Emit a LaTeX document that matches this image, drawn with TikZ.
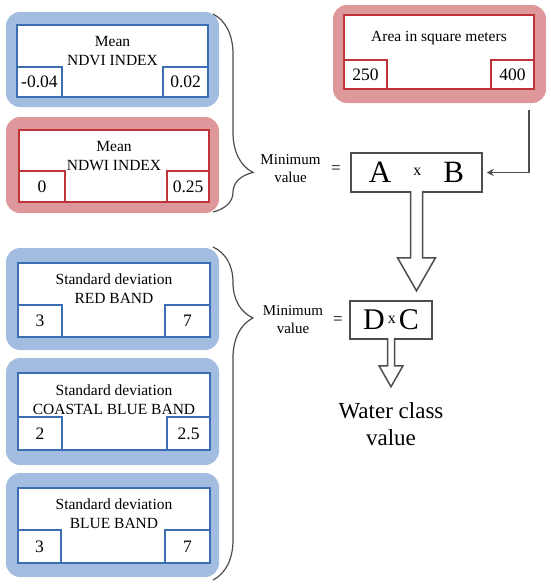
\documentclass[tikz,border=0pt]{standalone}
\usepackage{fontspec}
\setmainfont{Liberation Serif}
\usepackage{tikz}
\usetikzlibrary{positioning, arrows.meta, calc, decorations.pathreplacing}
\definecolor{bandblue}{HTML}{A3BDE0}
\definecolor{edgeblue}{HTML}{3C6EB4}
\definecolor{bandred}{HTML}{DE989C}
\definecolor{edgered}{HTML}{BE3438}
\definecolor{linegray}{HTML}{4D4D4D}

\tikzset{
  panelbg/.style={rounded corners=14pt, inner sep=0pt},
  valbox/.style={draw, fill=white, line width=2.4pt, inner sep=0pt},
  subbox/.style={draw, fill=white, line width=2.2pt, inner sep=0pt, font=\fontsize{17.5}{17.5}\selectfont},
  titletxt/.style={align=center, inner sep=0pt, font=\fontsize{15.5}{18.5}\selectfont},
  minlabel/.style={align=center, inner sep=0pt, font=\fontsize{15}{18}\selectfont},
  prodbox/.style={draw=linegray, fill=white, line width=1.5pt, inner sep=0pt},
  hollow/.style={draw=linegray, fill=white, line width=1.5pt, line join=miter},
  bracket/.style={draw=linegray, line width=1.2pt, decorate}
}

\begin{document}
\begin{tikzpicture}[x=1pt, y=-1pt]
  \useasboundingbox (0,0) rectangle (550,587);
  % mean NDVI
  \node[panelbg, fill=bandblue, minimum width=213pt, minimum height=95pt] (ndvibg) at (112.5,59.5) {};
  \node[valbox, draw=edgeblue, minimum width=191pt, minimum height=72pt] (ndvi) at (112.5,61) {};
  \node[titletxt] (ndvititle) at ($(ndvi.north)+(0,27)$) {Mean\\NDVI INDEX};
  \node[subbox, draw=edgeblue, minimum width=45pt, minimum height=30pt, anchor=south west] (ndvilo) at (ndvi.south west) {-0.04};
  \node[subbox, draw=edgeblue, minimum width=45pt, minimum height=30pt, anchor=south east] (ndvihi) at (ndvi.south east) {0.02};
  % mean NDWI
  \node[panelbg, fill=bandred, minimum width=213pt, minimum height=96pt] (ndwibg) at (112.5,165) {};
  \node[valbox, draw=edgered, minimum width=190pt, minimum height=72pt] (ndwi) at (114,166) {};
  \node[titletxt] (ndwititle) at ($(ndwi.north)+(0,27)$) {Mean\\NDWI INDEX};
  \node[subbox, draw=edgered, minimum width=46pt, minimum height=31pt, anchor=south west] (ndwilo) at (ndwi.south west) {0};
  \node[subbox, draw=edgered, minimum width=42pt, minimum height=31pt, anchor=south east] (ndwihi) at (ndwi.south east) {0.25};
  % area
  \node[panelbg, fill=bandred, minimum width=213pt, minimum height=98pt] (areabg) at (439.5,54) {};
  \node[valbox, draw=edgered, minimum width=190pt, minimum height=74pt] (area) at (439,52) {};
  \node[titletxt] (areatitle) at ($(area.north)+(0,24)$) {Area in square meters};
  \node[subbox, draw=edgered, minimum width=43pt, minimum height=29pt, anchor=south west] (arealo) at (area.south west) {250};
  \node[subbox, draw=edgered, minimum width=43pt, minimum height=29pt, anchor=south east] (areahi) at (area.south east) {400};
  % sd red band
  \node[panelbg, fill=bandblue, minimum width=213pt, minimum height=102pt] (redbg) at (112.5,299) {};
  \node[valbox, draw=edgeblue, minimum width=192pt, minimum height=74pt] (red) at (114,300) {};
  \node[titletxt] (redtitle) at ($(red.north)+(0,27)$) {Standard deviation\\RED BAND};
  \node[subbox, draw=edgeblue, minimum width=44pt, minimum height=32pt, anchor=south west] (redlo) at (red.south west) {3};
  \node[subbox, draw=edgeblue, minimum width=45pt, minimum height=32pt, anchor=south east] (redhi) at (red.south east) {7};
  % sd coastal blue band
  \node[panelbg, fill=bandblue, minimum width=213pt, minimum height=107pt] (coastbg) at (112.5,411.5) {};
  \node[valbox, draw=edgeblue, minimum width=192pt, minimum height=77pt] (coast) at (114,411.5) {};
  \node[titletxt] (coasttitle) at ($(coast.north)+(0,28)$) {Standard deviation\\COASTAL BLUE BAND};
  \node[subbox, draw=edgeblue, minimum width=44pt, minimum height=33pt, anchor=south west] (coastlo) at (coast.south west) {2};
  \node[subbox, draw=edgeblue, minimum width=43pt, minimum height=33pt, anchor=south east] (coasthi) at (coast.south east) {2.5};
  % sd blue band
  \node[panelbg, fill=bandblue, minimum width=213pt, minimum height=104pt] (bluebg) at (112.5,525) {};
  \node[valbox, draw=edgeblue, minimum width=192pt, minimum height=75pt] (blue) at (114,525.5) {};
  \node[titletxt] (bluetitle) at ($(blue.north)+(0,27)$) {Standard deviation\\BLUE BAND};
  \node[subbox, draw=edgeblue, minimum width=43pt, minimum height=33pt, anchor=south west] (bluelo) at (blue.south west) {3};
  \node[subbox, draw=edgeblue, minimum width=45pt, minimum height=33pt, anchor=south east] (bluehi) at (blue.south east) {7};
  % braces
  \coordinate (brace1top) at (213,14);
  \coordinate (brace1bot) at (213,212);
  \coordinate (brace2top) at (213,247);
  \coordinate (brace2bot) at (213,580);
  \draw[bracket, decoration={brace, amplitude=40pt, aspect=0.8}] (brace1top) -- (brace1bot);
  \draw[bracket, decoration={brace, amplitude=40pt, aspect=0.213}] (brace2top) -- (brace2bot);
  % products
  \node[minlabel] (min1) at (290.5,169) {Minimum\\value};
  \node[font=\fontsize{17}{17}\selectfont] (eq1) at (336,170) {=};
  \node[prodbox, minimum width=131pt, minimum height=39pt, font=\fontsize{31}{31}\selectfont] (prodAB) at (416.5,172.5)
    {A\hspace{22pt}\raisebox{7pt}{\fontsize{16}{16}\selectfont x}\hspace{22pt}B};
  \node[minlabel] (min2) at (293,320) {Minimum\\value};
  \node[font=\fontsize{17}{17}\selectfont] (eq2) at (338,321) {=};
  \node[prodbox, minimum width=82pt, minimum height=38pt, font=\fontsize{30}{30}\selectfont] (prodDC) at (391,320)
    {D\hspace{3pt}\raisebox{6pt}{\fontsize{16}{16}\selectfont x}\hspace{3pt}C};
  \node[align=center, inner sep=0pt, font=\fontsize{23}{27}\selectfont] (water) at (391,424) {Water class\\value};
  % connectors
  \coordinate (areaout) at (529,110);
  \draw[linegray, line width=1.5pt, -{Stealth[length=7pt, width=7pt]}, shorten >=4pt] (areaout) |- (prodAB.east);
  \draw[hollow] ($(prodAB.south)+(-6,-2)$) -- ($(prodAB.south)+(-6,65)$) -- ($(prodAB.south)+(-19,65)$)
    -- ($(prodAB.south)+(0,98)$) -- ($(prodAB.south)+(19,65)$) -- ($(prodAB.south)+(6,65)$) -- ($(prodAB.south)+(6,-2)$);
  \draw[hollow] ($(prodDC.south)+(-3.5,-2)$) -- ($(prodDC.south)+(-3.5,26)$) -- ($(prodDC.south)+(-12,26)$)
    -- ($(prodDC.south)+(0,47)$) -- ($(prodDC.south)+(12,26)$) -- ($(prodDC.south)+(3.5,26)$) -- ($(prodDC.south)+(3.5,-2)$);
\end{tikzpicture}
\end{document}
